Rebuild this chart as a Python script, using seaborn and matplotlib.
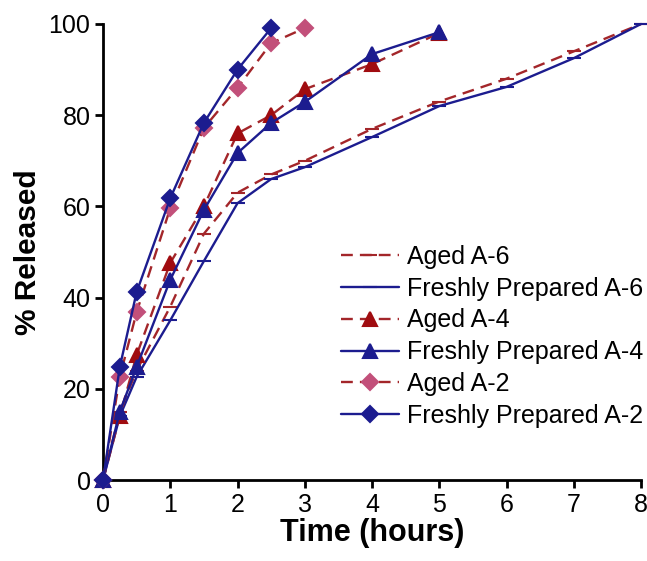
import matplotlib
matplotlib.use("Agg")
import matplotlib.pyplot as plt
import seaborn as sns
import pandas as pd

sns.set_theme(style="white")
plt.rcParams['font.family'] = ['Liberation Sans', 'DejaVu Sans']

time_a6 = [0, 0.25, 0.5, 1, 1.5, 2, 2.5, 3, 4, 5, 6, 7, 8]
aged_a6 = [0, 15, 24, 38, 54, 63, 67, 70, 77, 83, 88, 94, 100]
fresh_a6 = [0, 14, 22.6, 35, 48, 60.7, 66, 68.6, 75.2, 82, 86.2, 92.5, 100]

time_a4 = [0, 0.25, 0.5, 1, 1.5, 2, 2.5, 3, 4, 5]
aged_a4 = [0, 14, 27.4, 47.6, 60, 76, 80, 85.7, 91.2, 98]
fresh_a4 = [0, 15, 24.8, 43.9, 59.2, 71.7, 78.3, 82.9, 93.4, 98.2]

time_a2_fresh = [0, 0.25, 0.5, 1, 1.5, 2, 2.5]
fresh_a2 = [0, 24.8, 41.2, 61.8, 78.3, 90, 99.1]
time_a2_aged = [0, 0.25, 0.5, 1, 1.5, 2, 2.5, 3]
aged_a2 = [0, 22.6, 36.8, 59.6, 77.2, 86, 95.8, 99.1]

labels = ["Aged A-6", "Freshly Prepared A-6", "Aged A-4",
          "Freshly Prepared A-4", "Aged A-2", "Freshly Prepared A-2"]

blue = "#1c1c8f"
red = "#a3262a"
pink = "#c2507a"
dark_red = "#a00c10"

series = [
    (labels[0], time_a6, aged_a6, red, (0, (5, 3)), "_", red, red, 10),
    (labels[1], time_a6, fresh_a6, blue, "-", "_", blue, blue, 10),
    (labels[2], time_a4, aged_a4, red, (0, (5, 3)), "^", dark_red, dark_red, 10.5),
    (labels[3], time_a4, fresh_a4, blue, "-", "^", blue, blue, 10.5),
    (labels[4], time_a2_aged, aged_a2, red, (0, (5, 3)), "D", pink, pink, 8),
    (labels[5], time_a2_fresh, fresh_a2, blue, "-", "D", blue, blue, 8),
]

fig = plt.figure(figsize=(6.47, 5.61), dpi=100)
ax = fig.add_axes([103 / 647, 1 - 480 / 561, (641 - 103) / 647, (480 - 24) / 561])

for name, t, v, col, ls, mk, mfc, mec, ms in series:
    df = pd.DataFrame({"Time": t, "Released": v})
    sns.lineplot(data=df, x="Time", y="Released", ax=ax, color=col,
                 linestyle=ls, linewidth=1.7, marker=mk, markersize=ms,
                 markerfacecolor=mfc, markeredgecolor=mec, markeredgewidth=1.5,
                 label=name, clip_on=False, zorder=3)

ax.set_xlim(0, 8)
ax.set_ylim(0, 100)
ax.set_xticks(range(0, 9))
ax.set_yticks(range(0, 101, 20))
for s in ["top", "right"]:
    ax.spines[s].set_visible(False)
for s in ["left", "bottom"]:
    ax.spines[s].set_color("black")
    ax.spines[s].set_linewidth(2.0)
ax.tick_params(axis="both", direction="out", length=6, width=2.0,
               color="black", labelsize=18, labelcolor="black", pad=3,
               bottom=True, left=True)
ax.set_xlabel("Time (hours)", fontsize=22, fontweight="bold", labelpad=1,
              color="black")
ax.set_ylabel("% Released", fontsize=21.5, fontweight="bold", labelpad=5,
              color="black")

leg = ax.legend(loc="upper left", bbox_to_anchor=(341 / 647, 1 - 245 / 561),
                bbox_transform=fig.transFigure, frameon=False, fontsize=18,
                handlelength=2.3, handletextpad=0.35, labelspacing=0.31,
                borderpad=0, borderaxespad=0)
for txt in leg.get_texts():
    txt.set_color("black")

fig.savefig("out.png", dpi=100)
